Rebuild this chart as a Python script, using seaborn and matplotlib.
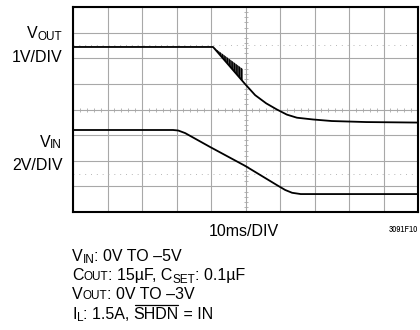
import numpy as np
import matplotlib
matplotlib.use("Agg")
import matplotlib.pyplot as plt
from matplotlib.lines import Line2D
import seaborn as sns

# ---- data (in scope divisions: x 0..10, y 0..8) ----
vout_x = [0, 4.06, 4.99, 5.28, 5.6, 5.91, 6.2, 6.49, 6.96, 7.5, 8.5, 10]
vout_y = [6.44, 6.44, 4.99, 4.56, 4.24, 4.0, 3.8, 3.68, 3.61, 3.55, 3.51, 3.49]
vin_x = [0, 2.9, 3.05, 3.25, 3.97, 4.99, 5.91, 6.15, 6.35, 6.6, 10]
vin_y = [3.2, 3.2, 3.18, 3.08, 2.54, 1.8, 1.05, 0.86, 0.75, 0.70, 0.70]
noise_x = [4.06, 4.92]
noise_low = [6.44, 5.1]
noise_high = [6.44, 5.58]
ref_levels = [6.5, 1.5]
x_divs = list(range(0, 11))
y_divs = list(range(0, 9))

sns.set_theme(style="white")
FN = 'Liberation Sans'
plt.rcParams['font.family'] = [FN, 'DejaVu Sans']
plt.rcParams['hatch.linewidth'] = 1.0
plt.rcParams['text.color'] = 'black'

W, H = 420, 330
fig = plt.figure(figsize=(4.2, 3.3), dpi=100)
ax = fig.add_axes([73/W, 1-212/H, 345/W, 205/H])
ax.set_xlim(0, 10)
ax.set_ylim(0, 8)
ax.set_xticks(x_divs)
ax.set_yticks(y_divs)
ax.grid(True, color='#a8a8a8', lw=0.8)
ax.tick_params(length=0, labelbottom=False, labelleft=False)
for s in ax.spines.values():
    s.set_color('black')
    s.set_linewidth(1.5)

for r in ref_levels:
    ax.axhline(r, color='#b8b8b8', lw=0.7, ls=(0, (1, 5)))
mt = np.arange(0, 10.01, 0.2)
ax.plot(mt, np.full_like(mt, 4.0), ls='none', marker='|', ms=2.5, color='#a8a8a8', mew=0.6)
mty = np.arange(0, 8.01, 0.2)
ax.plot(np.full_like(mty, 5.0), mty, ls='none', marker='_', ms=2.5, color='#a8a8a8', mew=0.6)

ax.fill_between(noise_x, noise_low, noise_high, facecolor='#555555', edgecolor='black',
                hatch='|||||||', lw=0)
sns.lineplot(x=vout_x, y=vout_y, ax=ax, color='black', lw=1.3)
sns.lineplot(x=vin_x, y=vin_y, ax=ax, color='black', lw=1.3)

renderer = fig.canvas.get_renderer()
BIG, SMALL = 11.5, 8.5

def runs(x, y, parts, ha='left'):
    """parts: list of (text, fontsize, dy_px, overline)"""
    texts = []
    widths = []
    for p in parts:
        txt, sz, dy, ov = p
        t = fig.text(0, 0, txt, fontsize=sz, ha='left', va='baseline')
        bb = t.get_window_extent(renderer)
        texts.append(t)
        widths.append(bb.width)
    total = sum(widths)
    cx = x - total if ha == 'right' else (x - total/2 if ha == 'center' else x)
    for t, w, p in zip(texts, widths, parts):
        txt, sz, dy, ov = p
        yy = y + dy
        t.set_position((cx/W, 1 - yy/H))
        if ov:
            yb = 1 - (y - 13.5)/H
            fig.add_artist(Line2D([(cx+1)/W, (cx+w-1)/W], [yb, yb], color='black', lw=0.9,
                                  transform=fig.transFigure))
        cx += w

runs(62, 38.3, [('V', BIG, 0, False), ('OUT', SMALL, 1.7, False)], ha='right')
runs(62.5, 61.7, [('1V/DIV', BIG, 0, False)], ha='right')
runs(62, 146.7, [('V', BIG, 0, False), ('IN', SMALL, 1.7, False)], ha='right')
runs(62.5, 170, [('2V/DIV', BIG, 0, False)], ha='right')
runs(244, 235.7, [('10ms/DIV', BIG, 0, False)], ha='center')
fig.text(418/W, 1-231.5/H, '3091F10', fontsize=6.5, ha='right', va='baseline',
         family=['Archivo Narrow', 'DejaVu Sans'])

x0 = 72
base = [260.7, 280.0, 299.3, 318.6]
runs(x0, base[0], [('V', BIG, 0, False), ('IN', SMALL, 2.6, False), (': 0V TO –5V', BIG, 0, False)])
runs(x0, base[1], [('C', BIG, 0, False), ('OUT', SMALL, 0, False), (': 15µF, C', BIG, 0, False),
                   ('SET', SMALL, 2.6, False), (': 0.1µF', BIG, 0, False)])
runs(x0, base[2], [('V', BIG, 0, False), ('OUT', SMALL, 0, False), (': 0V TO –3V', BIG, 0, False)])
runs(x0, base[3], [('I', BIG, 0, False), ('L', SMALL, 2.6, False), (': 1.5A, ', BIG, 0, False),
                   ('SHDN', BIG, 0, True), (' = IN', BIG, 0, False)])

fig.savefig('out.png', dpi=100)
